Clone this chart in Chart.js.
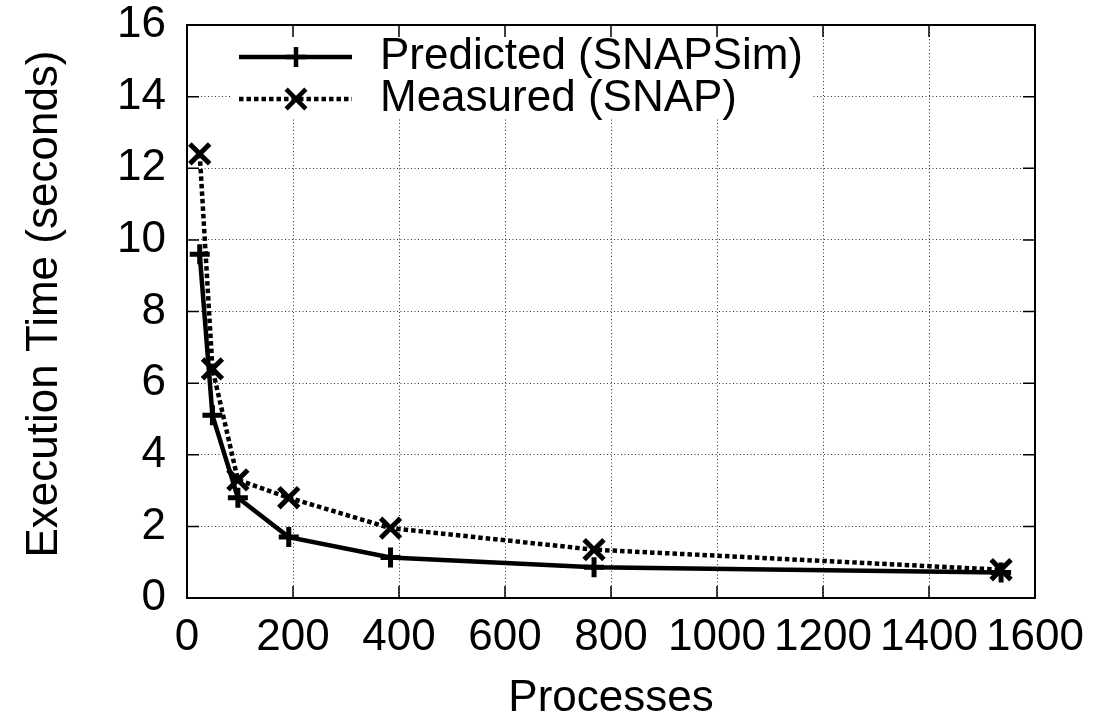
<!DOCTYPE html>
<html><head><meta charset="utf-8">
<script src="https://cdn.jsdelivr.net/npm/chart.js@4.4.0/dist/chart.umd.min.js"></script>
<style>html,body{margin:0;padding:0;background:#fff;}canvas{display:block;}</style>
</head><body>
<canvas id="c" width="1107" height="721"></canvas>
<script>
// ---- data ----
const processes = [24, 48, 96, 192, 384, 768, 1536];
const predicted = [9.6, 5.1, 2.8, 1.7, 1.13, 0.86, 0.71];
const measured  = [12.4, 6.4, 3.3, 2.8, 1.95, 1.35, 0.79];
const xTicks = [0, 200, 400, 600, 800, 1000, 1200, 1400, 1600];
const yTicks = [0, 2, 4, 6, 8, 10, 12, 14, 16];
const seriesLabels = ['Predicted (SNAPSim)', 'Measured (SNAP)'];
const xTitle = 'Processes';
const yTitle = 'Execution Time (seconds)';

const FONT = '"Liberation Sans", Arial, Helvetica, sans-serif';
const FS = 44;
const LINE_W = 4.5;
const DASH = [4.5, 3];

function pts(xs, ys) { return xs.map((x, i) => ({x: x, y: ys[i]})); }

const frame = {
  id: 'frame',
  beforeDatasetsDraw(chart) {
    const ctx = chart.ctx, a = chart.chartArea;
    ctx.save();
    ctx.fillStyle = '#fff';
    ctx.fillRect(230, a.top, 812 - 230, 119 - a.top);
    ctx.restore();
  },
  afterDatasetsDraw(chart) {
    const ctx = chart.ctx, a = chart.chartArea;
    const xs = chart.scales.x, ys = chart.scales.y;
    ctx.save();
    ctx.strokeStyle = '#000';
    ctx.lineWidth = 1.5;
    ctx.setLineDash([]);
    const TL = 12;
    ctx.beginPath();
    xTicks.forEach(v => {
      const p = xs.getPixelForValue(v);
      ctx.moveTo(p, a.bottom); ctx.lineTo(p, a.bottom - TL);
      ctx.moveTo(p, a.top); ctx.lineTo(p, a.top + TL);
    });
    yTicks.forEach(v => {
      const p = ys.getPixelForValue(v);
      ctx.moveTo(a.left, p); ctx.lineTo(a.left + TL, p);
      ctx.moveTo(a.right, p); ctx.lineTo(a.right - TL, p);
    });
    ctx.stroke();
    ctx.lineWidth = 2;
    ctx.strokeRect(a.left, a.top, a.right - a.left, a.bottom - a.top);

    // y-axis title
    ctx.save();
    ctx.translate(45, 304);
    ctx.rotate(-Math.PI / 2);
    ctx.fillStyle = '#000';
    ctx.font = FS + 'px ' + FONT;
    ctx.textAlign = 'center';
    ctx.textBaseline = 'middle';
    ctx.fillText(yTitle, 0, 0);
    ctx.restore();

    // legend
    const rows = [57, 99];
    chart.data.datasets.forEach((ds, i) => {
      const y = rows[i];
      ctx.lineWidth = ds.borderWidth;
      ctx.lineCap = 'butt';
      ctx.setLineDash(ds.borderDash || []);
      ctx.beginPath(); ctx.moveTo(239, y); ctx.lineTo(352, y); ctx.stroke();
      ctx.setLineDash([]);
      Chart.helpers.drawPoint(ctx, {pointStyle: ds.pointStyle, radius: ds.pointRadius, borderWidth: ds.pointBorderWidth}, 296, y);
      ctx.fillStyle = '#000';
      ctx.font = FS + 'px ' + FONT;
      ctx.textBaseline = 'middle';
      ctx.textAlign = 'left';
      ctx.fillText(ds.label, 380, y);
    });
    ctx.restore();
  }
};

new Chart(document.getElementById('c'), {
  type: 'line',
  data: {
    datasets: [
      {
        label: seriesLabels[0], data: pts(processes, predicted),
        borderColor: '#000', backgroundColor: '#000', borderWidth: LINE_W,
        pointStyle: 'cross', pointRadius: 10, pointBorderWidth: 5, pointBorderColor: '#000',
        tension: 0, fill: false
      },
      {
        label: seriesLabels[1], data: pts(processes, measured),
        borderColor: '#000', backgroundColor: '#000', borderWidth: LINE_W, borderDash: DASH,
        pointStyle: 'crossRot', pointRadius: 14, pointBorderWidth: 5, pointBorderColor: '#000',
        tension: 0, fill: false
      }
    ]
  },
  options: {
    responsive: false, animation: false,
    layout: {padding: {left: 0, top: 25, right: 72, bottom: 0}},
    plugins: {legend: {display: false}, tooltip: {enabled: false}},
    scales: {
      x: {
        type: 'linear', min: 0, max: 1600,
        afterBuildTicks: s => { s.ticks = xTicks.map(v => ({value: v})); },
        afterFit: s => { s.height = 123; s.paddingLeft = 0; s.paddingRight = 0; s.paddingTop = 0; s.paddingBottom = 0; },
        ticks: {font: {family: FONT, size: FS}, color: '#000', padding: 13, maxRotation: 0, autoSkip: false,
                callback: v => String(v)},
        grid: {color: 'rgba(0,0,0,0.8)', lineWidth: 1, drawTicks: false},
        border: {display: false, dash: [1, 2.5]},
        title: {display: true, text: xTitle, color: '#000', font: {family: FONT, size: FS, lineHeight: 1.0}, padding: {top: 0, bottom: 0}}
      },
      y: {
        type: 'linear', min: 0, max: 16,
        afterBuildTicks: s => { s.ticks = yTicks.map(v => ({value: v})); },
        afterFit: s => { s.width = 187; s.paddingTop = 0; s.paddingBottom = 0; s.paddingLeft = 0; s.paddingRight = 0; },
        ticks: {font: {family: FONT, size: FS}, color: '#000', padding: 21, autoSkip: false,
                callback: v => String(v)},
        grid: {color: 'rgba(0,0,0,0.8)', lineWidth: 1, drawTicks: false},
        border: {display: false, dash: [1, 2.5]},
        title: {display: false, text: yTitle}
      }
    }
  },
  plugins: [frame]
});
</script>
</body></html>
